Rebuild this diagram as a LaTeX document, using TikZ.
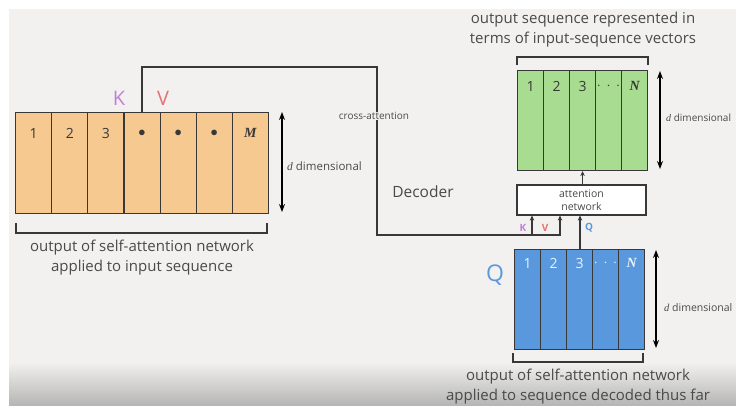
\documentclass[tikz,border=0pt]{standalone}
\usepackage{fontspec}
\setmainfont{Open Sans}
\newfontfamily\serifit{Liberation Serif}
\usetikzlibrary{arrows.meta,positioning,calc}
\definecolor{bg}{HTML}{F2F1EF}
\definecolor{ofill}{HTML}{F6C990}
\definecolor{gfill}{HTML}{A8DC90}
\definecolor{bfill}{HTML}{5A98DD}
\definecolor{ln}{HTML}{383838}
\definecolor{tx}{HTML}{4A4A4A}
\definecolor{kcol}{HTML}{C07FD8}
\definecolor{vcol}{HTML}{E8706F}
\definecolor{qcol}{HTML}{5A98DD}
\newcommand{\seqM}{{\serifit\bfseries\itshape M}}
\newcommand{\seqN}{{\serifit\bfseries\itshape N}}
\newcommand{\dd}{{\serifit\itshape d}}
\tikzset{
  cellbox/.style={draw=ln,line width=1.1pt,minimum height=#1,inner sep=0pt,anchor=north west},
  num/.style={font=\fontsize{14}{14}\selectfont,text=ln,inner sep=0pt},
  captext/.style={font=\fontsize{15}{20}\selectfont,text=tx,align=center,inner sep=0pt},
  smalltext/.style={font=\fontsize{10}{12.5}\selectfont,text=tx,align=center,inner sep=0pt},
  dimtext/.style={font=\fontsize{11.5}{12}\selectfont,text=tx,anchor=west,inner sep=0pt},
  conn/.style={draw=ln,line width=1.1pt},
  arr/.style={conn,-{Stealth[length=5pt,width=4.5pt]}},
  dimarr/.style={draw=black,line width=1.2pt,{Stealth[length=8pt,width=6pt]}-{Stealth[length=8pt,width=6pt]}},
  brk/.style={draw=ln,line width=1.1pt},
}
\begin{document}
\begin{tikzpicture}[x=1pt,y=-1pt]
\useasboundingbox (0,0) rectangle (736,405);
\clip (0,0) rectangle (736,405);
\fill[white] (0,0) rectangle (736,405);
\fill[bg] (9,9) rectangle (736,405);
\shade[top color=bg,bottom color=bg!55!black!60] (9,362) rectangle (736,405);

% ---------- orange (encoder output) ----------
\foreach \i/\t in {1/1,2/2,3/3,4/{$\bullet$},5/{$\bullet$},6/{$\bullet$},7/{\seqM}}{
  \node[cellbox=101pt,minimum width=36.14pt,fill=ofill] (o\i) at ({15+(\i-1)*36.14},112) {};
  \node[num] (on\i) at ($(o\i.north)+(0,21)$) {\t};
}
\node[font=\fontsize{20}{20}\selectfont,text=kcol,inner sep=0pt] (bigK) at (119,98) {K};
\node[font=\fontsize{20}{20}\selectfont,text=vcol,inner sep=0pt] (bigV) at (163,98) {V};
\coordinate (oda) at (282,112);
\coordinate (odb) at (282,212);
\draw[dimarr] (oda) -- (odb);
\node[dimtext] (odl) at (287,166) {\dd\ dimensional};
\coordinate (ob1) at (16,223);
\coordinate (ob2) at (267,223);
\draw[brk] (ob1) -- ++(0,10) -| (ob2);
\node[captext] (ocap) at (142,258) {output of self-attention network\\applied to input sequence};

% ---------- cross attention path ----------
\node[smalltext] (ca) at (374,116) {cross-attention};
\node[font=\fontsize{15.5}{15.5}\selectfont,text=tx,inner sep=0pt] (dec) at (423,192) {Decoder};

% ---------- attention network ----------
\node[draw=ln,line width=1.1pt,fill=white,minimum width=129pt,minimum height=30pt,smalltext,font=\fontsize{10.5}{13}\selectfont,inner sep=0pt] (attn) at (581.5,200) {attention\\network};

\coordinate (t1) at (377,67);
\coordinate (t2) at (377,235);
\coordinate (kx) at (532,235);
\draw[conn] (o4.north) |- (t1) -- (t1 |- ca.north);
\draw[arr] (t1 |- ca.south) -- (t2) -| ($(attn.south)+(-21.5,0)$);
\draw[arr] (kx) -- (kx |- attn.south);
\node[font=\fontsize{10}{10}\selectfont\bfseries,text=kcol,inner sep=0pt] (sK) at (523,228) {K};
\node[font=\fontsize{10}{10}\selectfont\bfseries,text=vcol,inner sep=0pt] (sV) at (545,228) {V};
\node[font=\fontsize{10}{10}\selectfont\bfseries,text=qcol,inner sep=0pt] (sQ) at (589,228) {Q};

% ---------- green (output) ----------
\foreach \i/\t in {1/1,2/2,3/3,4/{$\cdot\,\cdot\,\cdot$},5/{\seqN}}{
  \node[cellbox=100pt,minimum width=26pt,fill=gfill] (g\i) at ({517+(\i-1)*26},70) {};
  \node[num] (gn\i) at ($(g\i.north)+(0,16)$) {\t};
}
\draw[arr] (attn.north -| g3.south) -- (g3.south);
\coordinate (gb1) at (517,65);
\coordinate (gb2) at (648,65);
\draw[brk] (gb1) -- ++(0,-8) -| (gb2);
\node[captext] (gcap) at (583,30) {output sequence represented in\\terms of input-sequence vectors};
\coordinate (gda) at (660,71);
\coordinate (gdb) at (660,169);
\draw[dimarr] (gda) -- (gdb);
\node[dimtext,font=\fontsize{10}{12}\selectfont] (gdl) at (666,118) {\dd\ dimensional};

% ---------- blue (decoder self-attention) ----------
\foreach \i/\t in {1/1,2/2,3/3,4/{$\cdot\,\cdot\,\cdot$},5/{\seqN}}{
  \node[cellbox=100pt,minimum width=26pt,fill=bfill] (b\i) at ({514+(\i-1)*26},249) {};
  \node[num,text=white!88!bfill] (bn\i) at ($(b\i.north)+(0,14)$) {\t};
}
\coordinate (qs) at (580,249);
\draw[arr] (qs) -- (qs |- attn.south);
\node[font=\fontsize{23}{23}\selectfont,text=qcol,inner sep=0pt] (bigQ) at (495,275) {Q};
\coordinate (bda) at (656,250);
\coordinate (bdb) at (656,348);
\draw[dimarr] (bda) -- (bdb);
\node[dimtext,font=\fontsize{10.5}{12}\selectfont] (bdl) at (664,308) {\dd\ dimensional};
\coordinate (bb1) at (513,353);
\coordinate (bb2) at (643,353);
\draw[brk] (bb1) -- ++(0,9) -| (bb2);
\node[captext] (bcap) at (578,387) {output of self-attention network\\applied to sequence decoded thus far};
\end{tikzpicture}
\end{document}
